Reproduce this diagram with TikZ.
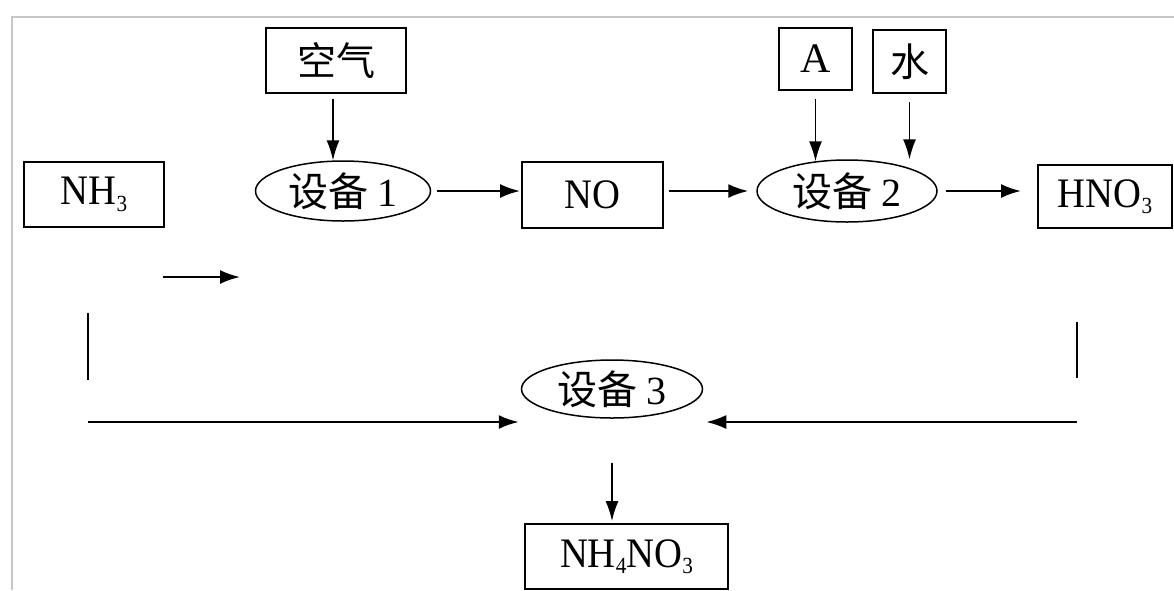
\documentclass[tikz,border=0pt]{standalone}
\usepackage{fontspec}
\usepackage{graphicx}
\setmainfont{Liberation Serif}
\newfontfamily\cjk{Noto Sans CJK SC}
\usetikzlibrary{arrows.meta,shapes.geometric,calc}
\newcommand\sbs[1]{\raisebox{-0.15em}{\scalebox{0.55}{#1}}}
\newcommand\cond[1]{\scalebox{0.92}[1]{#1}}
\tikzset{
  boxn/.style={draw, line width=2pt, rectangle, inner sep=0pt, font=\fontsize{42}{42}\selectfont},
  ell/.style={draw, line width=1.5pt, ellipse, inner sep=0pt, font=\fontsize{40}{40}\selectfont},
  arr/.style={line width=2.2pt, -{Latex[length=20pt,width=14pt]}},
  varr/.style={line width=1.5pt, -{Latex[length=20pt,width=13pt]}},
  ln/.style={line width=2pt},
  frame/.style={line width=1.5pt, draw=black!22}
}
\begin{document}
\begin{tikzpicture}[x=1pt,y=-1pt]
\useasboundingbox (0,0) rectangle (1174,590);
\fill[white] (0,0) rectangle (1174,590);
\draw[frame] (12,590) -- (12,17) -- (1174,17);
% nodes
\node[boxn, minimum width=140pt, minimum height=65pt] (air) at (336,60.5) {\fontsize{39}{39}\selectfont\cjk 空气};
\node[boxn, minimum width=140pt, minimum height=65pt] (nh3) at (94,194.5) {\cond{NH\sbs{3}}};
\node[ell, minimum width=175pt, minimum height=60pt] (d1) at (343,191) {\cjk 设备 \rmfamily 1};
\node[boxn, minimum width=141pt, minimum height=66pt] (no) at (592.5,195) {\cond{NO}};
\node[ell, minimum width=180pt, minimum height=62pt] (d2) at (847,191) {\cjk 设备 \rmfamily 2};
\node[boxn, minimum width=73pt, minimum height=62pt] (a) at (815.5,59) {A};
\node[boxn, minimum width=73pt, minimum height=63pt] (water) at (909.5,61.5) {\fontsize{39}{39}\selectfont\cjk 水};
\node[boxn, minimum width=134pt, minimum height=63pt] (hno3) at (1105,196.5) {\cond{HNO\sbs{3}}};
\node[ell, minimum width=181pt, minimum height=58pt] (d3) at (612,389) {\cjk 设备 \rmfamily 3};
\node[boxn, minimum width=203pt, minimum height=65pt] (nh4no3) at (626.5,556.5) {\cond{NH\sbs{4}NO\sbs{3}}};
% free coordinates
\coordinate (s1) at (163,277);
\coordinate (s2) at (240,277);
\coordinate (l1) at (88,313);
\coordinate (l2) at (88,380);
\coordinate (r1) at (1077,322);
\coordinate (r2) at (1077,378);
\coordinate (lh) at (88,422);
\coordinate (rh) at (1077,422);
\coordinate (dtop) at (612,463);
% connectors
\draw[varr] ([xshift=-3pt,yshift=-5pt]air.south) -- ([xshift=-3pt]air.south |- d1.north);
\draw[arr, shorten <=6pt, shorten >=1pt] (d1.east) -- (d1.east -| no.west);
\draw[arr, shorten <=5pt, shorten >=8pt] (no.east |- d2.west) -- (d2.west);
\draw[arr, shorten <=8pt, shorten >=16pt] (d2.east) -- (d2.east -| hno3.west);
\draw[varr] ([yshift=-8pt]a.south) -- ([yshift=-2pt]a.south |- d2.north);
\draw[varr] ([yshift=-8pt]water.south) -- (water.south |- d2.north);
\draw[arr] (s1) -- (s2);
\draw[ln] (l1) -- (l2);
\draw[ln] (r1) -- (r2);
\draw[arr] (lh) -- ([xshift=-2pt]lh -| d3.west);
\draw[arr] (rh) -- ([xshift=3pt]rh -| d3.east);
\draw[varr] (dtop) -- ([yshift=2pt]dtop |- nh4no3.north);
\end{tikzpicture}
\end{document}
